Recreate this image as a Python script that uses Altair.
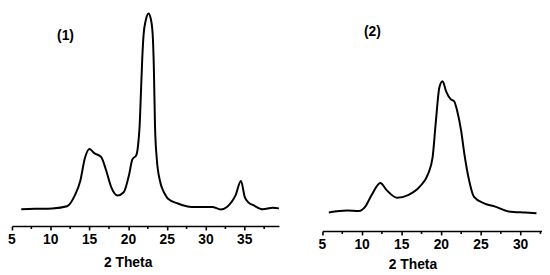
import altair as alt
import pandas as pd

# Panel (1)
x1 = [6.2, 8.0, 10.2, 12.1, 13.1, 13.8, 14.4, 15.0, 15.6, 16.5, 17.1, 17.8, 18.6, 19.4,
      20.1, 20.5, 21.04, 21.33, 21.45, 21.6, 21.79, 21.96, 22.24, 22.59, 22.87, 23.12,
      23.28, 23.43, 23.65, 24.07, 24.48, 24.7, 25.11, 26.38, 27.0, 28.1, 30.8, 31.9,
      32.7, 33.8, 34.5, 35.0, 35.5, 36.1, 37.3, 38.6, 39.4]
i1 = [7.9, 8.1, 8.3, 9.3, 14.4, 21.2, 32.0, 36.2, 34.3, 32.4, 26.6, 18.2, 14.4, 15.9,
      24.3, 31.2, 33.5, 41.1, 47.2, 61.0, 79.0, 90.0, 96.8, 100.0, 97.7, 90.8,
      74.8, 47.2, 32.0, 21.2, 16.7, 15.1, 12.8, 10.6, 9.8, 9.0, 9.0, 7.8,
      9.0, 14.4, 21.2, 13.6, 11.0, 9.8, 7.9, 8.6, 8.3]

# Panel (2)
x2 = [5.8, 8.1, 9.6, 10.4, 11.2, 12.3, 13.1, 14.4, 15.8, 17.3, 18.3, 18.9, 19.3, 19.75,
      20.15, 20.6, 21.2, 21.6, 22.0, 22.5, 22.9, 23.5, 24.1, 25.4, 26.8, 28.5, 30.6, 32.0]
i2 = [8.5, 9.4, 9.2, 11.2, 16.5, 22.1, 18.8, 15.3, 16.5, 20.5, 26.0, 34.0, 50.0, 66.0,
      68.8, 64.2, 60.5, 59.7, 55.2, 46.0, 35.5, 23.3, 15.8, 12.7, 11.2, 9.0, 8.5, 8.2]

major_ticks1 = [5, 10, 15, 20, 25, 30, 35]
minor_ticks1 = [7.5, 12.5, 17.5, 22.5, 27.5, 32.5, 37.5]
major_ticks2 = [5, 10, 15, 20, 25, 30]
minor_ticks2 = [7.5, 12.5, 17.5, 22.5, 27.5, 32.5]
tick_labels1 = ["5", "10", "15", "20", "25", "30", "35"]
tick_labels2 = ["5", "10", "15", "20", "25", "30"]

panel_labels = ["(1)", "(2)"]
label_x = [11.9, 11.3]
label_y = [89.5, 91.4]

FONT = "Liberation Sans"


def panel(xs, ys, dom, majors, minors, tlabels, lab, lx, ly, w, h, title_x, title_y, lab_off):
    df = pd.DataFrame({"theta": xs, "intensity": ys})
    xscale = alt.Scale(domain=dom, nice=False, zero=False)
    yscale = alt.Scale(domain=[0, 100], nice=False)
    axis = alt.Axis(
        values=majors,
        grid=False,
        tickSize=4,
        labels=False,
        title="2 Theta",
        titleX=title_x,
        titleY=title_y,
    )
    line = alt.Chart(df).mark_line(color="black", strokeWidth=2, interpolate="monotone").encode(
        x=alt.X("theta:Q", scale=xscale, axis=axis),
        y=alt.Y("intensity:Q", scale=yscale, axis=None),
    )
    mdf = pd.DataFrame({"theta": minors})
    minor = alt.Chart(mdf).mark_rule(color="black", strokeWidth=1.6).encode(
        x=alt.X("theta:Q"),
        y=alt.value(h),
        y2=alt.value(h + 3),
    )
    ldf = pd.DataFrame({"theta": majors, "lbl": tlabels})
    ticklabels = alt.Chart(ldf).mark_text(
        font=FONT, fontWeight="bold", fontSize=14, color="black", baseline="middle"
    ).encode(x=alt.X("theta:Q"), y=alt.value(h + lab_off), text="lbl:N")
    tdf = pd.DataFrame({"theta": [lx], "intensity": [ly], "t": [lab]})
    text = alt.Chart(tdf).mark_text(font=FONT, fontWeight="bold", fontSize=14, color="black").encode(
        x=alt.X("theta:Q"), y=alt.Y("intensity:Q"), text="t:N"
    )
    return (line + minor + ticklabels + text).properties(width=w, height=h)


p1 = panel(x1, i1, [5, 39.4], major_ticks1, minor_ticks1, tick_labels1, panel_labels[0],
           label_x[0], label_y[0], 270, 215, 117, 37, 14)
p2 = panel(x2, i2, [5, 32.7], major_ticks2, minor_ticks2, tick_labels2, panel_labels[1],
           label_x[1], label_y[1], 222, 220, 91, 34, 14)

chart = (
    alt.hconcat(p1, p2, spacing=36)
    .configure_view(stroke=None)
    .configure_axis(
        domainColor="black",
        domainWidth=1.6,
        tickColor="black",
        tickWidth=1.6,
        titleFont=FONT,
        titleFontWeight=700,
        titleFontSize=14,
        titleColor="black",
        titleBaseline="middle",
        titleAlign="center",
    )
    .properties(background="white", padding=0)
)

chart.save("out.html", embed_options={"renderer": "svg", "actions": False})
